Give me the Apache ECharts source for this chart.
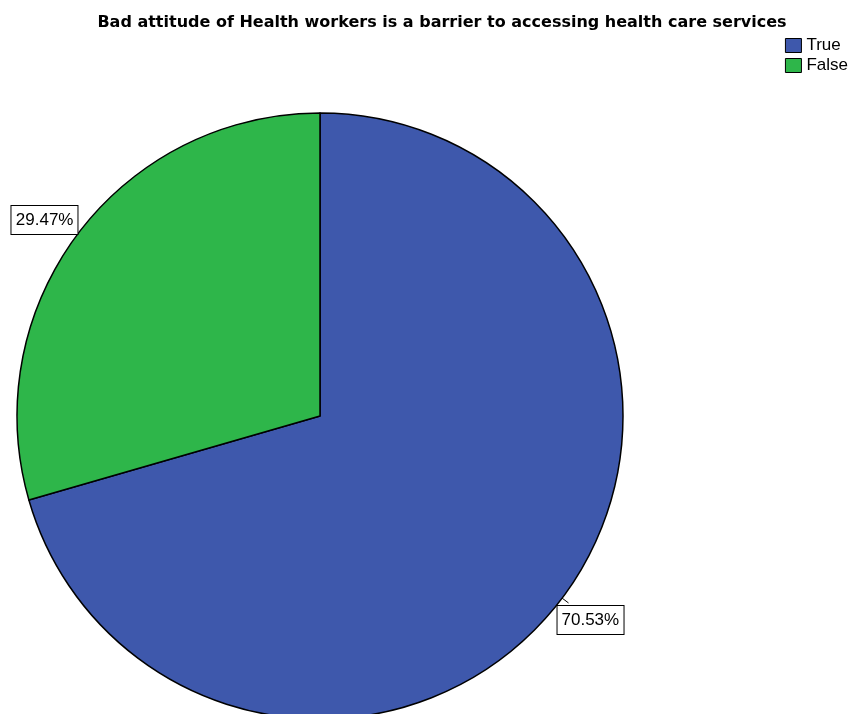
<!DOCTYPE html>
<html>
<head>
<meta charset="utf-8">
<script src="https://cdn.jsdelivr.net/npm/echarts@6/dist/echarts.min.js"></script>
<style>
html,body{margin:0;padding:0;background:#fff;}
#chart{width:851px;height:714px;}
</style>
</head>
<body>
<div id="chart"></div>
<script>
// Responses to the attitude question
const categories = ['True', 'False'];
const percentages = [70.53, 29.47];
const sliceColors = ['#3E58AC', '#2EB64A'];
// Nudges that tuck each value box against the rim of its slice
const labelNudges = [[-16, 17], [11, -9]];

const chart = echarts.init(document.getElementById('chart'), null, { renderer: 'canvas' });

chart.setOption({
  animation: false,
  backgroundColor: '#ffffff',
  title: {
    text: 'Bad attitude of Health workers is a barrier to accessing health care services',
    left: 437,
    textAlign: 'center',
    top: 10,
    textStyle: {
      fontFamily: 'DejaVu Sans, sans-serif',
      fontWeight: 'bold',
      fontSize: 16,
      color: '#000'
    }
  },
  legend: {
    orient: 'vertical',
    right: 3,
    top: 37,
    padding: 0,
    itemWidth: 16,
    itemHeight: 14,
    itemGap: 3,
    icon: 'rect',
    textStyle: {
      fontFamily: 'Liberation Sans, Arial, sans-serif',
      fontSize: 17,
      color: '#000'
    },
    data: categories.map((c, i) => ({
      name: c,
      itemStyle: { color: sliceColors[i], borderColor: '#000', borderWidth: 1 }
    }))
  },
  series: [{
    type: 'pie',
    center: [320, 416],
    radius: [0, 303],
    startAngle: 90,
    clockwise: true,
    silent: true,
    itemStyle: { borderColor: '#000', borderWidth: 1.5 },
    label: {
      show: true,
      position: 'outside',
      overflow: 'none',
      width: 58,
      align: 'center',
      formatter: p => p.value.toFixed(2) + '%',
      fontFamily: 'Liberation Sans, Arial, sans-serif',
      fontSize: 17,
      lineHeight: 18,
      color: '#000',
      backgroundColor: '#fff',
      borderColor: '#000',
      borderWidth: 1,
      padding: [5, 4, 5, 4]
    },
    labelLine: {
      show: true,
      length: 8,
      length2: 0,
      lineStyle: { color: '#000', width: 1 }
    },
    labelLayout: p => ({ dx: labelNudges[p.dataIndex][0], dy: labelNudges[p.dataIndex][1] }),
    data: categories.map((c, i) => ({
      name: c,
      value: percentages[i],
      itemStyle: { color: sliceColors[i] }
    }))
  }]
});
</script>
</body>
</html>
